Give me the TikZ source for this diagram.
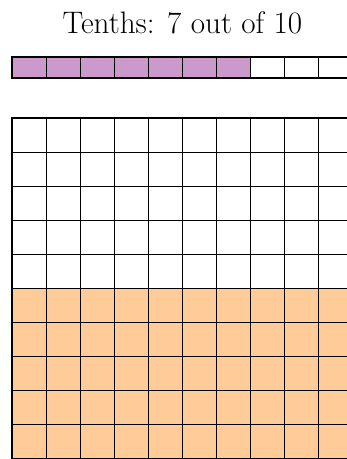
\documentclass[tikz,border=0pt]{standalone}
\usepackage{fontspec}
\usetikzlibrary{positioning}
\definecolor{tenthfill}{HTML}{CC99CC}
\definecolor{hundredfill}{HTML}{FFCC99}
\tikzset{
  cell/.style = {draw=black, line width=0.8pt},
  frame/.style = {draw=black, line width=1.6pt},
  caption/.style = {font=\fontsize{26}{30}\selectfont, anchor=base}
}
\begin{document}
\begin{tikzpicture}[x=1cm, y=1cm]
  \useasboundingbox (0,0) rectangle (10.19,-13.48);
  \clip (0,0) rectangle (10.19,-13.48);

  % Title
  \node[caption] (title) at (5.36,-0.98) {Tenths: 7 out of 10};

  % Tenths strip
  \begin{scope}[shift={(0.36,-1.665)}]
    \fill[tenthfill] (0,0) rectangle (7,-0.635);
    \foreach \i in {1,...,9}
      \draw[cell] (\i,0) -- (\i,-0.635);
    \draw[frame] (0,0) rectangle (10,-0.635);
  \end{scope}

  % Hundredths grid
  \begin{scope}[shift={(0.36,-3.474)}]
    \fill[hundredfill] (0,-5) rectangle (10,-10);
    \draw[cell] (0,-10) grid (10,0);
    \draw[frame] (0,0) rectangle (10,-10);
  \end{scope}
\end{tikzpicture}
\end{document}
